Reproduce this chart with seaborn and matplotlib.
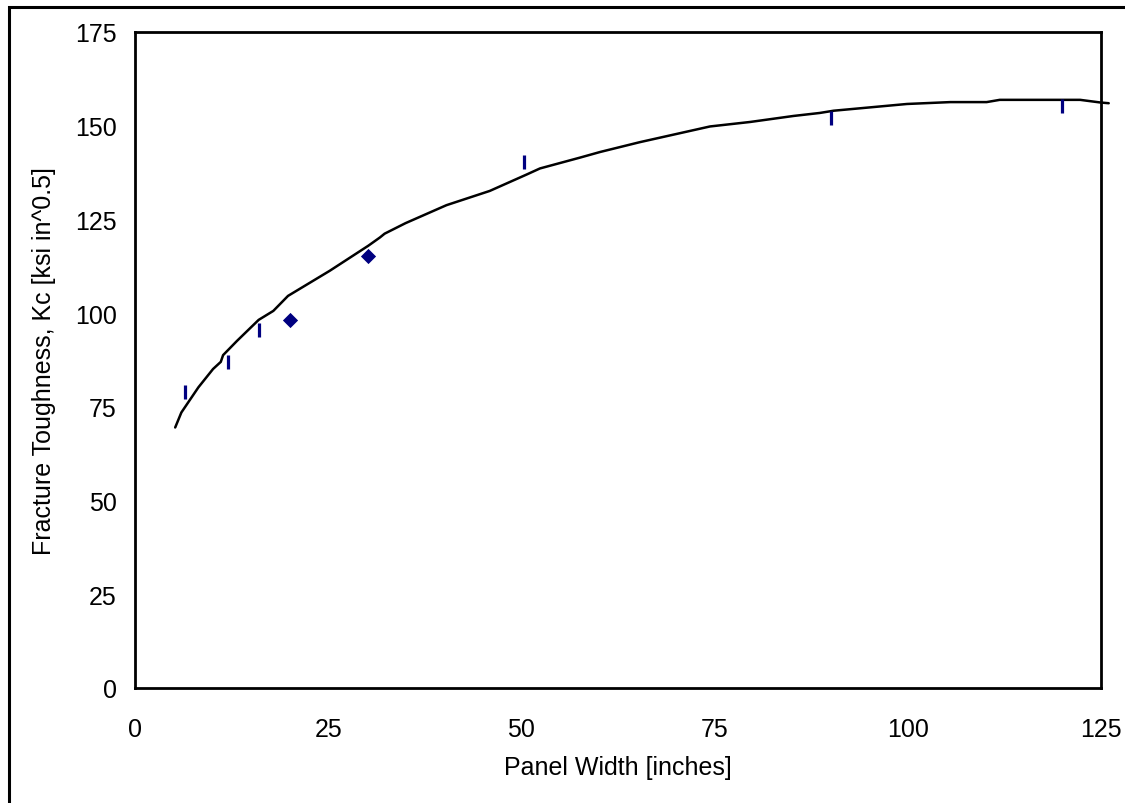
import matplotlib
matplotlib.use('Agg')
import seaborn as sns
import matplotlib.pyplot as plt
from matplotlib.patches import Rectangle

# Test data
bar_x = [6.5, 12.0, 16.1, 50.3, 90.1, 119.9]
bar_y = [79.0, 87.0, 95.6, 140.4, 152.0, 155.3]
diamond_x = [20.0, 30.1]
diamond_y = [98.2, 115.3]

# Fitted curve (as drawn)
curve_x = [5.2, 6.0, 8.2, 10.1, 11.1, 11.4, 13.2, 16.0, 17.9, 19.8, 25.2, 30.2,
           31.7, 32.3, 35.0, 40.3, 45.9, 50.7, 52.4, 57.6, 60.2, 65.3, 74.4,
           79.6, 85.2, 88.6, 90.4, 99.9, 105.5, 110.2, 111.9, 122.3, 124.9, 126.0]
curve_y = [69.5, 73.5, 80.2, 85.1, 87.0, 88.8, 92.6, 98.2, 100.6, 104.6, 111.3, 118.0,
           120.2, 121.2, 124.0, 128.8, 132.6, 137.0, 138.6, 141.5, 143.0, 145.6, 149.8,
           151.0, 152.6, 153.4, 154.0, 155.8, 156.3, 156.3, 156.9, 156.9, 156.2, 156.0]

sns.set_style('white')
plt.rcParams['font.family'] = ['Liberation Sans', 'DejaVu Sans']

fig = plt.figure(figsize=(11.25, 8.04), dpi=100)
ax = fig.add_axes([135 / 1125, 1 - 689 / 804, (1101 - 135) / 1125, (689 - 33) / 804])

sns.lineplot(x=curve_x, y=curve_y, ax=ax, color='black', linewidth=1.8,
             sort=False, clip_on=False, zorder=3)
sns.scatterplot(x=bar_x, y=bar_y, ax=ax, marker='|', s=110, linewidth=2.3,
                color='#000080', zorder=4)
sns.scatterplot(x=diamond_x, y=diamond_y, ax=ax, marker='D', s=60, linewidth=0,
                color='#000080', zorder=4)

ax.set_xlim(0, 125)
ax.set_ylim(0, 175)
ax.set_xticks(range(0, 126, 25))
ax.set_yticks(range(0, 176, 25))
for s in ax.spines.values():
    s.set_color('black')
    s.set_linewidth(2)
ax.tick_params(direction='out', length=6, width=2, colors='black', labelsize=18)
ax.tick_params(axis='x', pad=15)
ax.tick_params(axis='y', pad=7)
ax.set_xlabel('Panel Width [inches]', fontsize=18, labelpad=10, color='black')
ax.set_ylabel('Fracture Toughness, Kc [ksi in^0.5]', fontsize=18, labelpad=14,
              color='black')

# outer chart border (only top and left edges visible in the image)
fig.patches.append(Rectangle((9 / 1125, -0.5), 2, 0.5 + 1 - 8 / 804,
                             transform=fig.transFigure, fill=False,
                             edgecolor='black', linewidth=2.2))

fig.savefig('out.png', dpi=100)
